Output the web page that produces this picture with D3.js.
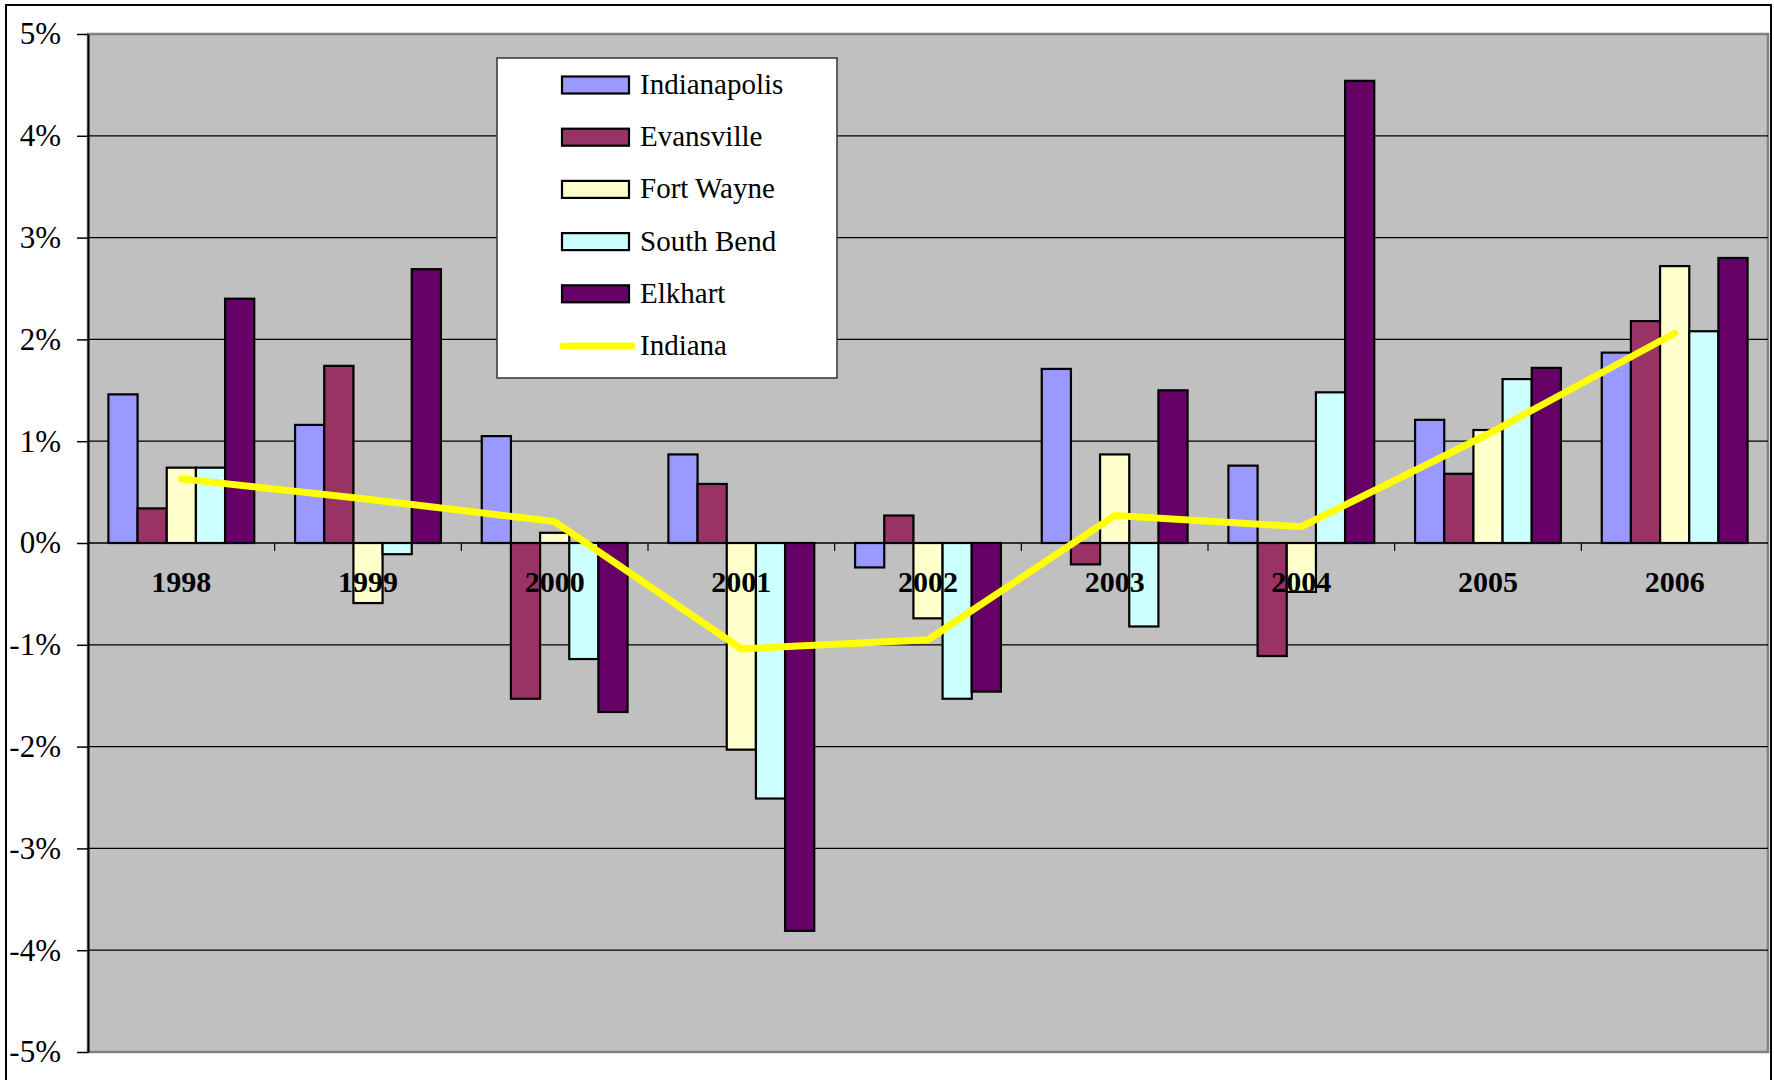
<!DOCTYPE html>
<html>
<head>
<meta charset="utf-8">
<script src="https://cdn.jsdelivr.net/npm/d3@7"></script>
<style>
  html, body { margin: 0; padding: 0; background: #ffffff; }
  svg { display: block; }
</style>
</head>
<body>
<svg id="chart" width="1774" height="1080"></svg>
<script>
// Annual growth by metro area (percent)
const years = ["1998", "1999", "2000", "2001", "2002", "2003", "2004", "2005", "2006"];
const seriesNames = ["Indianapolis", "Evansville", "Fort Wayne", "South Bend", "Elkhart"];
const indianapolis = [1.46, 1.16, 1.05, 0.87, -0.24, 1.71, 0.76, 1.21, 1.87];
const evansville   = [0.34, 1.74, -1.53, 0.58, 0.27, -0.21, -1.11, 0.68, 2.18];
const fortWayne    = [0.74, -0.59, 0.10, -2.03, -0.74, 0.87, -0.48, 1.11, 2.72];
const southBend    = [0.74, -0.11, -1.14, -2.51, -1.53, -0.82, 1.48, 1.61, 2.08];
const elkhart      = [2.40, 2.69, -1.66, -3.81, -1.46, 1.50, 4.54, 1.72, 2.80];
const indiana      = [0.63, 0.43, 0.21, -1.04, -0.95, 0.27, 0.16, 1.07, 2.06];
const lineName = "Indiana";
const yTicks = [-5, -4, -3, -2, -1, 0, 1, 2, 3, 4, 5];

const seriesValues = [indianapolis, evansville, fortWayne, southBend, elkhart];
const seriesColors = ["#9999FF", "#993366", "#FFFFCC", "#CCFFFF", "#660066"];
const lineColor = "#FFFF00";

const svg = d3.select("#chart");
const serif = "'Liberation Serif', 'Times New Roman', serif";

const plot = { left: 88, right: 1768, top: 34, bottom: 1052 };

const x = d3.scaleBand().domain(years).range([plot.left, plot.right]).paddingInner(0).paddingOuter(0);
const xs = d3.scaleBand().domain(seriesNames).range([0, x.bandwidth()]).paddingInner(0).paddingOuter(0.7);
const y = d3.scaleLinear().domain([-5, 5]).range([plot.bottom, plot.top]);

// chart frame
svg.append("rect")
  .attr("x", 6).attr("y", 5)
  .attr("width", 1765).attr("height", 1100)
  .attr("fill", "#ffffff").attr("stroke", "#000000").attr("stroke-width", 2);

// plot area
svg.append("rect")
  .attr("x", plot.left).attr("y", plot.top)
  .attr("width", plot.right - plot.left).attr("height", plot.bottom - plot.top)
  .attr("fill", "#C0C0C0").attr("stroke", "#808080").attr("stroke-width", 2.5);

// horizontal gridlines
svg.append("g").selectAll("line")
  .data(yTicks.filter(v => v > -5 && v < 5))
  .join("line")
  .attr("x1", plot.left).attr("x2", plot.right)
  .attr("y1", d => y(d)).attr("y2", d => y(d))
  .attr("stroke", "#000000").attr("stroke-width", d => d === 0 ? 1.5 : 1.2);

// y axis
const yAxis = svg.append("g")
  .attr("transform", `translate(${plot.left},0)`)
  .call(d3.axisLeft(y).tickValues(yTicks).tickFormat(d => `${d}%`)
    .tickSize(11).tickSizeOuter(0).tickPadding(16));
yAxis.select(".domain").attr("stroke", "#000000").attr("stroke-width", 2);
yAxis.selectAll(".tick line").attr("stroke", "#000000").attr("stroke-width", 1.5);
yAxis.selectAll(".tick text")
  .attr("font-family", serif).attr("font-size", 31).attr("fill", "#000000");

// bars
const groups = svg.append("g").selectAll("g")
  .data(seriesValues)
  .join("g")
  .attr("fill", (d, i) => seriesColors[i]);

groups.each(function(vals, si) {
  d3.select(this).selectAll("rect")
    .data(vals)
    .join("rect")
    .attr("x", (v, j) => x(years[j]) + xs(seriesNames[si]))
    .attr("width", xs.bandwidth())
    .attr("y", v => Math.min(y(v), y(0)))
    .attr("height", v => Math.abs(y(v) - y(0)))
    .attr("stroke", "#000000").attr("stroke-width", 2.2);
});

// category boundary ticks on the zero axis
svg.append("g").selectAll("line")
  .data(years.slice(1))
  .join("line")
  .attr("x1", d => x(d)).attr("x2", d => x(d))
  .attr("y1", y(0)).attr("y2", y(0) + 8)
  .attr("stroke", "#000000").attr("stroke-width", 1.2);

// category labels
const xAxis = svg.append("g")
  .attr("transform", `translate(0,${y(0)})`)
  .call(d3.axisBottom(x).tickSize(0).tickPadding(28));
xAxis.select(".domain").remove();
xAxis.selectAll(".tick text")
  .attr("font-family", serif).attr("font-size", 30).attr("font-weight", "bold").attr("fill", "#000000");

// statewide line
const line = d3.line()
  .x((v, j) => x(years[j]) + x.bandwidth() / 2)
  .y(v => y(v));
svg.append("path")
  .datum(indiana)
  .attr("d", line)
  .attr("fill", "none")
  .attr("stroke", lineColor).attr("stroke-width", 7)
  .attr("stroke-linecap", "round").attr("stroke-linejoin", "miter");

// legend
const legend = svg.append("g");
legend.append("rect")
  .attr("x", 497).attr("y", 58).attr("width", 340).attr("height", 320)
  .attr("fill", "#ffffff").attr("stroke", "#333333").attr("stroke-width", 1.5);

const legendItems = seriesNames.map((n, i) => ({ name: n, color: seriesColors[i], type: "bar" }))
  .concat([{ name: lineName, color: lineColor, type: "line" }]);
const rowY = i => 85 + i * 52.2;

const rows = legend.selectAll("g.item")
  .data(legendItems)
  .join("g").attr("class", "item");

rows.filter(d => d.type === "bar").append("rect")
  .attr("x", 562).attr("y", (d, i) => rowY(legendItems.indexOf(d)) - 8.5)
  .attr("width", 67).attr("height", 17)
  .attr("fill", d => d.color).attr("stroke", "#000000").attr("stroke-width", 2.2);

rows.filter(d => d.type === "line").append("line")
  .attr("x1", 563).attr("x2", 632)
  .attr("y1", d => rowY(legendItems.indexOf(d))).attr("y2", d => rowY(legendItems.indexOf(d)))
  .attr("stroke", d => d.color).attr("stroke-width", 7).attr("stroke-linecap", "round");

rows.append("text")
  .attr("x", 640).attr("y", d => rowY(legendItems.indexOf(d)) + 9)
  .attr("font-family", serif).attr("font-size", 29).attr("fill", "#000000")
  .text(d => d.name);
</script>
</body>
</html>
